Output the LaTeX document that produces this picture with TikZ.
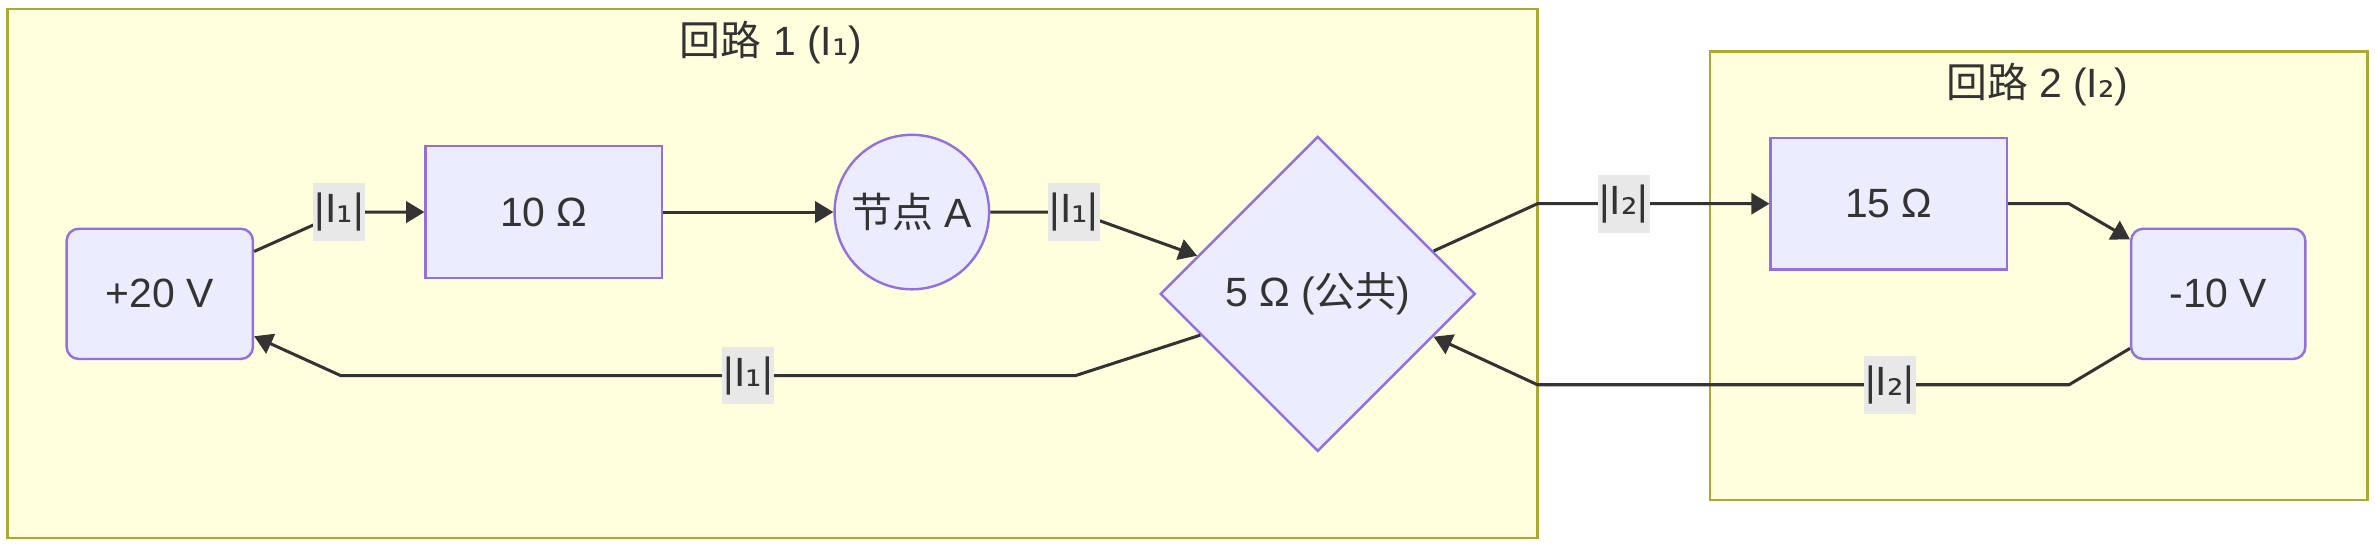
\documentclass[tikz,border=0pt]{standalone}
\usepackage{fontspec}
\setmainfont{Liberation Sans}
\newfontfamily\cjk{Noto Sans CJK SC}
\newfontfamily\dvs{DejaVu Sans}
\usetikzlibrary{arrows.meta,shapes.geometric,calc}
\definecolor{nodefill}{HTML}{ECECFF}
\definecolor{nodeline}{HTML}{9370DB}
\definecolor{boxfill}{HTML}{FFFFDE}
\definecolor{boxline}{HTML}{AAAA33}
\definecolor{wirecol}{HTML}{333333}
\definecolor{tagfill}{HTML}{E8E8E8}
\newcommand{\Ione}{I{\dvs ₁}}
\newcommand{\Itwo}{I{\dvs ₂}}
\tikzset{
  part/.style={draw=nodeline,fill=nodefill,line width=0.8pt,inner sep=0pt},
  resistor/.style={part,rectangle,minimum width=78pt,minimum height=43.5pt},
  source/.style={part,rectangle,rounded corners=4pt,minimum height=43pt},
  junction/.style={part,circle,minimum size=51pt},
  shared/.style={part,diamond,minimum width=104pt,minimum height=104pt},
  loopbox/.style={draw=boxline,fill=boxfill,line width=0.8pt},
  current/.style={draw=wirecol,line width=1pt,-{Triangle[length=6pt,width=7pt]}},
  tag/.style={fill=tagfill,inner xsep=0.5pt,inner ysep=0pt,minimum height=19pt}
}
\begin{document}
\begin{tikzpicture}[x=0.5pt,y=-0.5pt,font=\fontsize{13.5}{16}\selectfont,text=wirecol]
\fill[white] (0,0) rectangle (1568,360);
% loops
\draw[loopbox] (5,6) rectangle (1015,355);
\node (title1) at (509,28) {{\cjk 回路} 1 (\Ione)};
\draw[loopbox] (1129,34) rectangle (1563,330);
\node (title2) at (1345,56) {{\cjk 回路} 2 (\Itwo)};
% parts
\node[source,minimum width=61.5pt] (v20) at (105.5,194) {+20 V};
\node[resistor] (r10) at (359,140) {10 Ω};
\node[junction] (nodeA) at (602,140) {{\cjk 节点} A};
\node[shared] (common) at (870,194) {5 Ω ({\cjk 公共})};
\node[resistor] (r15) at (1247,134.5) {15 Ω};
\node[source,minimum width=57.5pt] (v10) at (1464.5,194) {-10 V};
% currents
\draw[current] ([yshift=14pt]v20.east) -- (226,140) -- (r10.west);
\draw[current] (r10.east) -- (nodeA.west);
\draw[current] (nodeA.east) -- (710,140) -- ($(common.west)!0.24!(common.north)$);
\draw[current] ($(common.west)!0.26!(common.south)$) -- (710,248) -- (225,248) -- ([yshift=-14pt]v20.east);
\draw[current] ($(common.east)!0.27!(common.north)$) -- (1015,134.5) -- (r15.west);
\draw[current] (r15.east) -- (1366,134.5) -- ([yshift=18pt]v10.west);
\draw[current] ([yshift=-18pt]v10.west) -- (1366,254) -- (1015,254) -- ($(common.east)!0.27!(common.south)$);
% labels
\node[tag] (t1) at (224,140) {|\Ione|};
\node[tag] (t2) at (709,140) {|\Ione|};
\node[tag] (t3) at (494,248) {|\Ione|};
\node[tag] (t4) at (1072,134.5) {|\Itwo|};
\node[tag] (t5) at (1247.5,254) {|\Itwo|};
\end{tikzpicture}
\end{document}
